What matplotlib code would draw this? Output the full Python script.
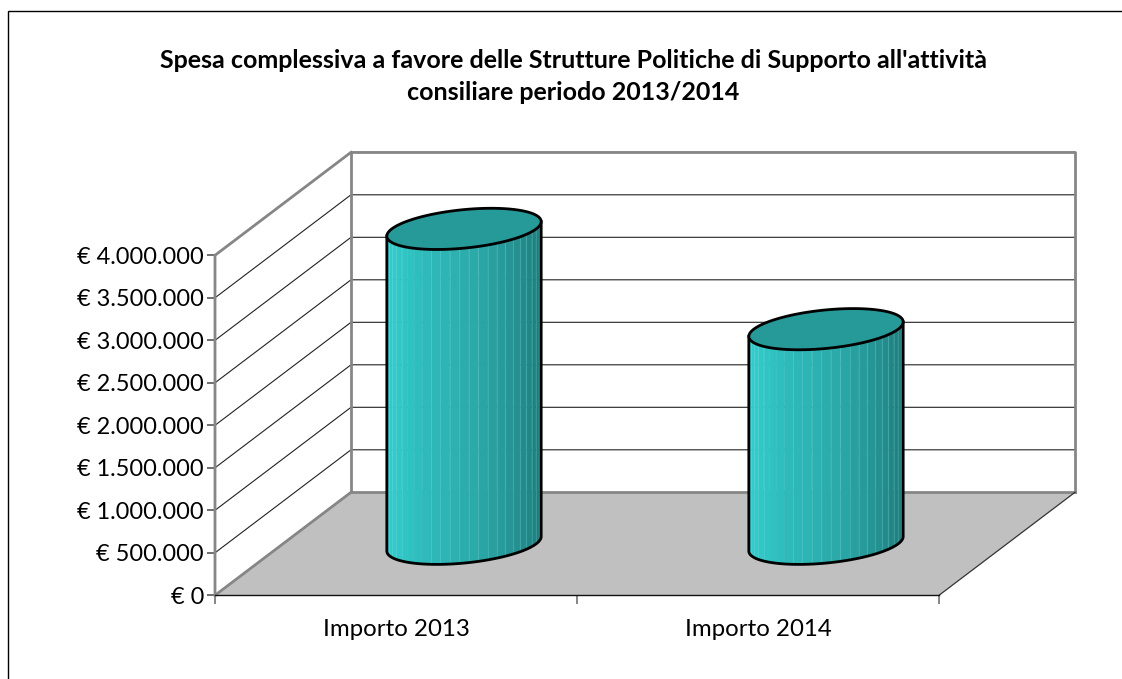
import numpy as np
import matplotlib
matplotlib.use("agg")
import matplotlib.pyplot as plt
from matplotlib.patches import Polygon, Rectangle
from matplotlib.colors import LinearSegmentedColormap
from matplotlib.ticker import FuncFormatter

title = "Spesa complessiva a favore delle Strutture Politiche di Supporto all'attività\nconsiliare periodo 2013/2014"
categories = ["Importo 2013", "Importo 2014"]
values = [3705000, 2525000]
yticks = [0, 500000, 1000000, 1500000, 2000000, 2500000, 3000000, 3500000, 4000000]

W, H = 1122, 679
GRAY = "#868686"
depth_x = 136 / 362        # depth offset, in category units
depth_y = 103 / 340 * 4e6  # depth offset, in euro
radius = 0.1995
radius_d = 0.2
shade = LinearSegmentedColormap.from_list(
    "cyl", [(0, "#2DC2C2"), (0.1, "#32CCCC"), (0.3, "#2FBDBD"), (0.55, "#2BA9A9"), (0.8, "#238A8A"), (1, "#1D7373")])

fig = plt.figure(figsize=(W / 100, H / 100), dpi=100)
plt.rcParams["font.family"] = ["Lato", "DejaVu Sans"]
ax = fig.add_axes([215 / W, 1 - 595.3 / H, 724 / W, 340 / H])
ax.set_xlim(0, 2)
ax.set_ylim(0, 4e6)
ax.patch.set_visible(False)
for s in ax.spines.values():
    s.set_visible(False)


def proj(x, v, d):
    return x + depth_x * np.asarray(d), v + depth_y * np.asarray(d)


def line(x, v, d, **kw):
    px, py = proj(np.asarray(x, float), np.asarray(v, float), np.asarray(d, float))
    ax.plot(px, py, clip_on=False, solid_capstyle="projecting", **kw)


# floor
ax.add_patch(Polygon(np.column_stack(proj(np.array([0, 2, 2, 0]), 0, np.array([0, 0, 1, 1]))),
                     fc="#C0C0C0", ec="none", clip_on=False, zorder=1))

# grid lines on the side and back walls
for v in yticks[1:]:
    line([0, 0, 2], [v, v, v], [0, 1, 1], color="#222222", lw=0.8, zorder=1.5)

# walls
line([0, 0, 0], [0, 4e6, 4e6], [0, 0, 1], color=GRAY, lw=2, zorder=2)
line([0, 0, 2, 2], [0, 4e6, 4e6, 0], [1, 1, 1, 1], color=GRAY, lw=2, zorder=2)
line([0, 0], [0, 0], [0, 1], color=GRAY, lw=2, zorder=2)
line([0, 2], [0, 0], [1, 1], color=GRAY, lw=2, zorder=2)
line([2, 2], [0, 0], [0, 1], color="#333333", lw=0.9, zorder=2)
line([0, 2], [0, 0], [0, 0], color="#111111", lw=1.0, zorder=2)

# cylinders
for i, v in enumerate(values):
    cx = i + 0.5
    start = np.arctan2(radius_d * depth_x, radius) + np.pi
    t = np.linspace(start, start + np.pi, 26)
    for k in range(25):
        tt = np.linspace(t[k], t[k + 1], 4)
        bx, by = proj(cx + radius * np.cos(tt), 0, 0.5 + radius_d * np.sin(tt))
        tx, ty = proj(cx + radius * np.cos(tt), v, 0.5 + radius_d * np.sin(tt))
        frac = k / 24
        ax.add_patch(Polygon(np.column_stack([np.r_[bx, tx[::-1]], np.r_[by, ty[::-1]]]),
                             fc=shade(frac), ec=shade(frac), lw=0.3, clip_on=False, zorder=3))
        if k > 0 and not 6 <= k <= 8:
            ax.plot([bx[0], tx[0]], [by[0], ty[0]], color="#7FE0E0", lw=0.8, alpha=0.25,
                    clip_on=False, zorder=3.1)
    # outline: lower edge plus the two sides
    tt = np.linspace(start, start + np.pi, 80)
    bx, by = proj(cx + radius * np.cos(tt), 0, 0.5 + radius_d * np.sin(tt))
    ax.plot(np.r_[bx[0], bx, bx[-1]],
            np.r_[v + by[0], by, v + by[-1]],
            color="black", lw=2, clip_on=False, zorder=4)
    # top
    tt = np.linspace(0, 2 * np.pi, 160)
    tx, ty = proj(cx + radius * np.cos(tt), v, 0.5 + radius_d * np.sin(tt))
    ax.add_patch(Polygon(np.column_stack([tx, ty]), fc="#269999", ec="black", lw=2,
                         clip_on=False, zorder=5))

# axes
ax.set_yticks(yticks)
ax.yaxis.set_major_formatter(FuncFormatter(lambda v, p: "€ " + f"{int(v):,}".replace(",", ".")))
ax.set_xticks([0, 1, 2])
ax.set_xticklabels([])
ax.set_xticks([0.5, 1.5], categories, minor=True)
ax.tick_params(axis="y", length=6, width=1.2, color="#555555", labelsize=16.9, pad=2, labelcolor="black")
ax.tick_params(axis="x", which="major", length=6.5, width=1.4, color=GRAY)
ax.tick_params(axis="x", which="minor", length=0, labelsize=17.3, pad=17)

fig.add_artist(Rectangle((7.5 / W, -2 / H), (W + 10) / W, (H - 10.5) / H + 2 / H, transform=fig.transFigure,
                         fc="none", ec="black", lw=1.0))
fig.text(573.5 / W, 1 - 60 / H, title.split("\n")[0], ha="center", va="center", fontsize=18, fontweight="bold")
fig.text(573.5 / W, 1 - 93 / H, title.split("\n")[1], ha="center", va="center", fontsize=18, fontweight="bold")

plt.savefig("out.png", dpi=100)
plt.close()
